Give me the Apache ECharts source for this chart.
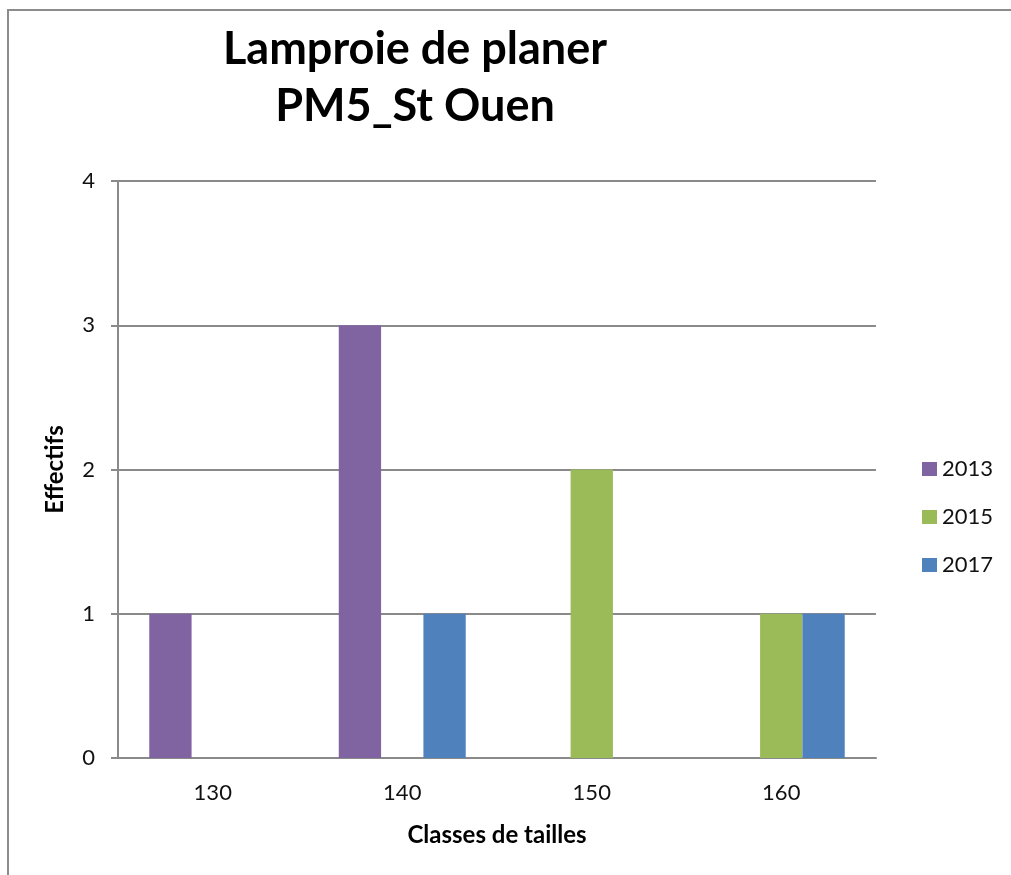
<!DOCTYPE html>
<html>
<head>
<meta charset="utf-8">
<script src="https://cdn.jsdelivr.net/npm/echarts@6/dist/echarts.min.js"></script>
<style>
  html, body { margin: 0; padding: 0; background: #fff; }
  #chart { width: 1011px; height: 875px; }
</style>
</head>
<body>
<div id="chart"></div>
<script>
// Size classes and counts per survey year
const categories = ['130', '140', '150', '160'];
const years = ['2013', '2015', '2017'];
const counts2013 = [1, 3, 0, 0];
const counts2015 = [0, 0, 2, 1];
const counts2017 = [0, 1, 0, 1];
const yTicks = [0, 1, 2, 3, 4];

const colors = ['#8064A2', '#9BBB59', '#4F81BD'];
const font = 'Lato, "Open Sans", sans-serif';

const chart = echarts.init(document.getElementById('chart'), null, { renderer: 'canvas' });

const seriesData = [counts2013, counts2015, counts2017];

chart.setOption({
  animation: false,
  color: colors,
  title: {
    text: 'Lamproie de planer\nPM5_St Ouen',
    left: 410,
    top: 16,
    textAlign: 'center',
    textStyle: {
      fontFamily: font,
      fontWeight: 'bold',
      fontSize: 45,
      lineHeight: 57,
      color: '#000'
    }
  },
  graphic: [{
    type: 'rect',
    shape: { x: 8, y: 10, width: 1100, height: 1000 },
    style: { fill: 'none', stroke: '#8c8c8c', lineWidth: 2 },
    silent: true
  }],
  legend: {
    orient: 'vertical',
    left: 917,
    top: 453,
    itemWidth: 15,
    itemHeight: 14,
    itemGap: 26,
    icon: 'rect',
    data: years,
    textStyle: { fontFamily: font, fontSize: 22, color: '#111' }
  },
  grid: {
    left: 118,
    right: 135,
    top: 181,
    bottom: 117,
    containLabel: false
  },
  xAxis: {
    type: 'category',
    data: categories,
    name: 'Classes de tailles',
    nameLocation: 'middle',
    nameGap: 65,
    nameTextStyle: { fontFamily: font, fontWeight: 'bold', fontSize: 24, color: '#000' },
    axisLine: { lineStyle: { color: '#8a8a8a', width: 2 } },
    axisTick: { show: false },
    axisLabel: { fontFamily: font, fontSize: 22, color: '#111', margin: 24 }
  },
  yAxis: {
    type: 'value',
    min: 0,
    max: 4,
    interval: 1,
    name: 'Effectifs',
    nameLocation: 'middle',
    nameGap: 51,
    nameRotate: 90,
    nameTextStyle: { fontFamily: font, fontWeight: 'bold', fontSize: 24, color: '#000' },
    axisLine: { show: true, lineStyle: { color: '#8a8a8a', width: 2 } },
    axisTick: { show: true, length: 7, lineStyle: { color: '#8a8a8a', width: 2 } },
    axisLabel: {
      fontFamily: font, fontSize: 22, color: '#111', margin: 23,
      formatter: v => (yTicks.includes(v) ? String(v) : '')
    },
    splitLine: { lineStyle: { color: '#8a8a8a', width: 2 } }
  },
  series: years.map((y, i) => ({
    name: y,
    type: 'bar',
    data: seriesData[i],
    barGap: '0%',
    barCategoryGap: '33%'
  }))
});
</script>
</body>
</html>
